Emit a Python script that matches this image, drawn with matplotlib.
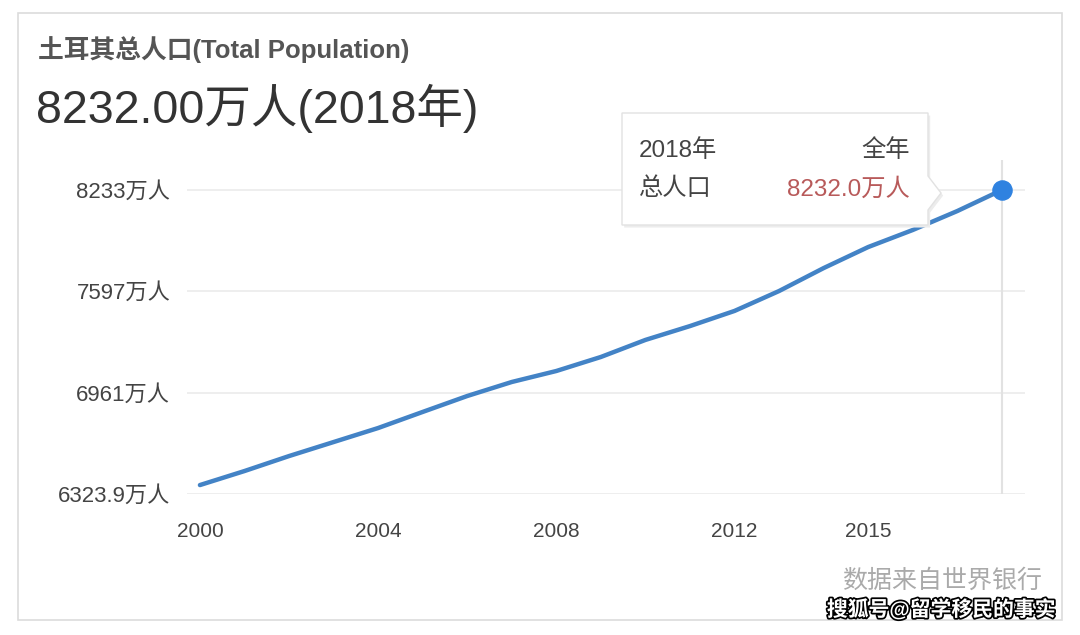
import matplotlib.pyplot as plt
import matplotlib.patheffects as pe
from matplotlib.patches import Rectangle, Polygon

plt.rcParams['font.family'] = ['Liberation Sans', 'Noto Sans CJK SC', 'DejaVu Sans']

# Turkey total population, 10k persons
years = [2000, 2001, 2002, 2003, 2004, 2005, 2006, 2007, 2008, 2009,
         2010, 2011, 2012, 2013, 2014, 2015, 2016, 2017, 2018]
population = [6380, 6468, 6562, 6650, 6738, 6839, 6939, 7027, 7096, 7184,
              7291, 7378, 7473, 7598, 7742, 7874, 7981, 8100, 8232]

y_ticks = [6323.9, 6961, 7597, 8233]
y_labels = ['6323.9万人', '6961万人', '7597万人', '8233万人']
x_ticks = [2000, 2004, 2008, 2012, 2015]

W, H = 1080, 635
fig = plt.figure(figsize=(W / 100, H / 100), dpi=100)
fig.patch.set_facecolor('white')


def px(x, y):
    return (x / W, 1 - y / H)


# card outline
fig.patches.append(Rectangle(px(18, 620), (1062 - 18) / W, (620 - 13) / H,
                             transform=fig.transFigure, facecolor='white',
                             edgecolor='#dcdcdc', linewidth=1.2, zorder=-10))

# axes area: x 187..1025 px, y 160..494 px
ax = fig.add_axes([187 / W, 1 - 494 / H, (1025 - 187) / W, (494 - 160) / H])
ax.set_facecolor('none')
ax.set_xlim(1999.71, 2018.52)
ax.set_ylim(6323.9, 6323.9 + 334 * 6.277)

for v in y_ticks:
    ax.axhline(v, color='#ebebeb', linewidth=1.2, zorder=1)
ax.axvline(years[-1], color='#e2e2e2', linewidth=1.5, zorder=1)

ax.plot(years, population, color='#4383c6', linewidth=3.2,
        solid_capstyle='round', solid_joinstyle='round', zorder=3)
ax.scatter([years[-1]], [population[-1]], s=190, color='#2f82e0', zorder=4)

ax.set_yticks(y_ticks)
ax.set_yticklabels(y_labels)
ax.set_xticks(x_ticks)
ax.set_xticklabels([str(x) for x in x_ticks])
ax.tick_params(axis='y', length=0, pad=12, labelsize=16, labelcolor='#444444')
ax.tick_params(axis='x', length=0, pad=20, labelsize=15, labelcolor='#444444')
for s in ax.spines.values():
    s.set_visible(False)

# headings
fig.text(*px(38, 50), '土耳其总人口(Total Population)', fontsize=18.5,
         fontweight='bold', color='#555555', va='center', ha='left')
fig.text(*px(36, 108), '8232.00万人(2018年)', fontsize=33.5,
         color='#333333', va='center', ha='left')

# tooltip box with pointer
box = [px(622, 113), px(928, 113), px(928, 176), px(941, 193), px(928, 210),
       px(928, 225), px(622, 225)]
fig.patches.append(Polygon([(x + 0.002, y - 0.004) for x, y in box],
                           closed=True, transform=fig.transFigure,
                           facecolor='#ececec', edgecolor='none', zorder=5))
fig.patches.append(Polygon(box, closed=True, transform=fig.transFigure,
                           facecolor='white', edgecolor='#e2e2e2',
                           linewidth=1, zorder=6))
fig.text(*px(639, 151), '2018年', fontsize=17.5, color='#444444',
         va='center', ha='left', zorder=7)
fig.text(*px(910, 151), '全年', fontsize=17.5, color='#444444',
         va='center', ha='right', zorder=7)
fig.text(*px(639, 189), '总人口', fontsize=17.5, color='#444444',
         va='center', ha='left', zorder=7)
fig.text(*px(910, 189), '8232.0万人', fontsize=17.5, color='#b85a5a',
         va='center', ha='right', zorder=7)

# source note and watermark
fig.text(*px(1042, 581), '数据来自世界银行', fontsize=18, color='#aaaaaa',
         va='center', ha='right')
fig.text(*px(1056, 609), '搜狐号@留学移民的事实', fontsize=15, color='white',
         fontweight='bold', va='center', ha='right',
         path_effects=[pe.withStroke(linewidth=2.5, foreground='black')])

fig.savefig('out.png', dpi=100)
